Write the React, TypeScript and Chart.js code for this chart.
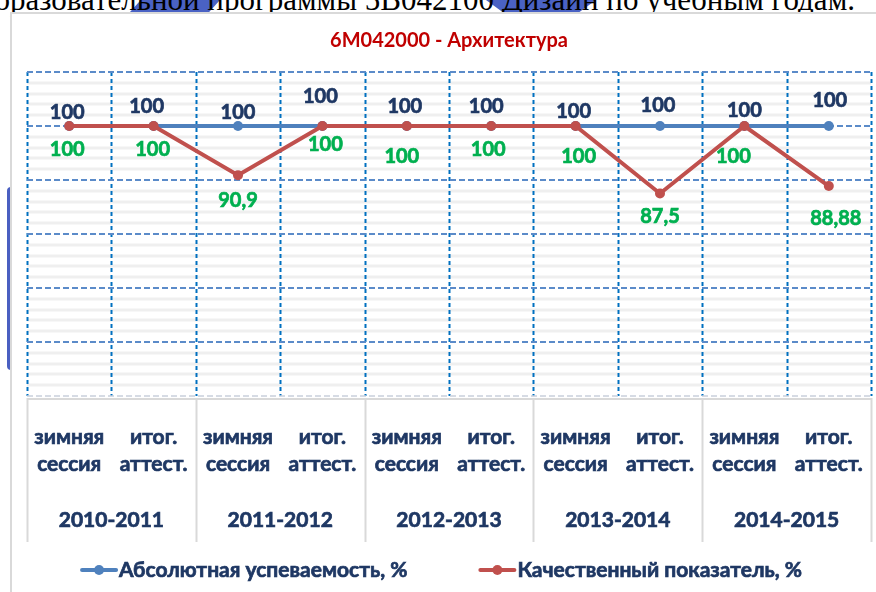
import React, { useEffect, useRef } from "react";
import { Chart, registerables } from "chart.js";

Chart.register(...registerables);

// ---- data ----
const titleText = "6M042000 - Архитектура";
const headingText = "образовательной программы 5В042100 Дизайн по учебным годам.";
const sessionLabels: string[][] = [
  ["зимняя", "сессия"], ["итог.", "аттест."],
  ["зимняя", "сессия"], ["итог.", "аттест."],
  ["зимняя", "сессия"], ["итог.", "аттест."],
  ["зимняя", "сессия"], ["итог.", "аттест."],
  ["зимняя", "сессия"], ["итог.", "аттест."],
];
const yearLabels = ["2010-2011", "2011-2012", "2012-2013", "2013-2014", "2014-2015"];
const absoluteName = "Абсолютная успеваемость, %";
const qualityName = "Качественный показатель, %";
const absoluteValues = [100, 100, 100, 100, 100, 100, 100, 100, 100, 100];
const qualityValues = [100, 100, 90.9, 100, 100, 100, 100, 87.5, 100, 88.88];
const yMin = 50;
const yMax = 110;
const majorStep = 10;
const minorStep = 2;

// ---- label placement (style, relative to each point) ----
const absLabelOffset: [number, number][] = [
  [-2, -13], [-7, -19], [0, -13], [-2, -29], [-2, -19],
  [-5, -19], [-2, -14], [-2, -20], [0, -15], [1, -25],
];
const qualLabelOffset: [number, number][] = [
  [-2, 24], [-1, 24], [0, 25], [3, 19], [-5, 31],
  [-3, 24], [3, 31], [0, 23], [-11, 31], [7, 32],
];

const FONT = "Lato, 'Open Sans', sans-serif";
const NAVY = "#1F3864";
const BLUE = "#4F81BD";
const RED = "#C0504D";
const GREEN = "#00B050";

const fmt = (v: number) => String(v).replace(".", ",");

// filled text with a hairline stroke to get a heavier weight
const boldText = (ctx: CanvasRenderingContext2D, t: string, px: number, py: number, color: string) => {
  ctx.fillStyle = color;
  ctx.strokeStyle = color;
  ctx.lineWidth = 0.7;
  ctx.setLineDash([]);
  ctx.fillText(t, px, py);
  ctx.strokeText(t, px, py);
};

const decorPlugin = {
  id: "decor",
  beforeDatasetsDraw(chart: any) {
    const { ctx, chartArea: a, scales } = chart;
    const x = scales.x;
    const y = scales.y;
    ctx.save();
    // minor grid
    ctx.setLineDash([]);
    ctx.strokeStyle = "#efefef";
    ctx.lineWidth = 3;
    for (let v = yMin + minorStep; v < yMax; v += minorStep) {
      if (Math.abs(v % majorStep) < 1e-6) continue;
      const py = Math.round(y.getPixelForValue(v));
      ctx.beginPath();
      ctx.moveTo(a.left, py);
      ctx.lineTo(a.right, py);
      ctx.stroke();
    }
    // category boundaries
    const n = sessionLabels.length;
    const bounds: number[] = [];
    for (let i = 0; i <= n; i++) {
      if (i === 0) bounds.push(a.left);
      else if (i === n) bounds.push(a.right);
      else bounds.push((x.getPixelForValue(i - 1) + x.getPixelForValue(i)) / 2);
    }
    // vertical dashed
    ctx.strokeStyle = "#0070C0";
    ctx.lineWidth = 2;
    ctx.setLineDash([4, 3]);
    for (const bx of bounds) {
      const px = Math.round(bx) + 0.5;
      ctx.beginPath();
      ctx.moveTo(px, a.top);
      ctx.lineTo(px, a.bottom);
      ctx.stroke();
    }
    // horizontal major dashed
    ctx.setLineDash([6, 3]);
    for (let v = yMin; v <= yMax; v += majorStep) {
      const py = Math.round(y.getPixelForValue(v));
      ctx.strokeStyle = v === yMin ? "#c9d0dc" : "#5B8BC9";
      ctx.lineWidth = v === yMin ? 1.5 : 2;
      ctx.beginPath();
      ctx.moveTo(a.left, py);
      ctx.lineTo(a.right, py);
      ctx.stroke();
    }
    // category axis box
    ctx.setLineDash([]);
    ctx.strokeStyle = "#d9d9d9";
    ctx.lineWidth = 2;
    ctx.beginPath();
    ctx.moveTo(a.left, a.bottom + 3);
    ctx.lineTo(a.right, a.bottom + 3);
    ctx.stroke();
    for (let i = 0; i <= n; i += 2) {
      const px = Math.round(bounds[i]) + 0.5;
      ctx.beginPath();
      ctx.moveTo(px, a.bottom + 2);
      ctx.lineTo(px, a.bottom + 146);
      ctx.stroke();
    }
    // category labels
    ctx.font = `bold 21px ${FONT}`;
    ctx.textAlign = "center";
    ctx.textBaseline = "middle";
    sessionLabels.forEach((lines, i) => {
      const px = x.getPixelForValue(i);
      lines.forEach((t, j) => boldText(ctx, t, px, a.bottom + 41 + j * 27, NAVY));
    });
    yearLabels.forEach((t, g) => {
      const px = (bounds[g * 2] + bounds[g * 2 + 2]) / 2;
      boldText(ctx, t, px, a.bottom + 124, NAVY);
    });
    ctx.restore();
  },
  afterDatasetsDraw(chart: any) {
    const { ctx } = chart;
    ctx.save();
    ctx.font = `bold 20px ${FONT}`;
    ctx.textAlign = "center";
    ctx.textBaseline = "middle";
    const m0 = chart.getDatasetMeta(0);
    const m1 = chart.getDatasetMeta(1);
    m0.data.forEach((pt: any, i: number) => {
      const [dx, dy] = absLabelOffset[i];
      boldText(ctx, fmt(absoluteValues[i]), pt.x + dx, pt.y + dy, NAVY);
    });
    m1.data.forEach((pt: any, i: number) => {
      const [dx, dy] = qualLabelOffset[i];
      boldText(ctx, fmt(qualityValues[i]), pt.x + dx, pt.y + dy, GREEN);
    });
    // legend
    ctx.font = `bold 21px ${FONT}`;
    const items = [
      { name: absoluteName, color: BLUE },
      { name: qualityName, color: RED },
    ];
    const lineLen = 34;
    const gapText = 3;
    const gapItems = 73;
    const widths = items.map((it) => lineLen + gapText + ctx.measureText(it.name).width);
    const total = widths[0] + widths[1] + gapItems;
    let sx = chart.width / 2 + 4 - total / 2;
    const ly = chart.chartArea.bottom + 174;
    items.forEach((it, k) => {
      ctx.strokeStyle = it.color;
      ctx.lineWidth = 4;
      ctx.lineCap = "round";
      ctx.beginPath();
      ctx.moveTo(sx, ly);
      ctx.lineTo(sx + lineLen, ly);
      ctx.stroke();
      ctx.fillStyle = it.color;
      ctx.beginPath();
      ctx.arc(sx + lineLen / 2, ly, 5, 0, Math.PI * 2);
      ctx.fill();
      ctx.textAlign = "left";
      boldText(ctx, it.name, sx + lineLen + gapText, ly, NAVY);
      sx += widths[k] + gapItems;
    });
    ctx.restore();
  },
};

export default function App() {
  const ref = useRef<HTMLCanvasElement | null>(null);
  useEffect(() => {
    document.body.style.margin = "0";
    let chart: Chart | null = null;
    let cancelled = false;
    const make = () => {
      if (cancelled || !ref.current) return;
      chart = new Chart(ref.current, {
        type: "line",
        data: {
          labels: sessionLabels.map((l) => l.join(" ")),
          datasets: [
            {
              label: absoluteName,
              data: absoluteValues,
              borderColor: BLUE,
              backgroundColor: BLUE,
              borderWidth: 4,
              pointRadius: 5,
              pointBorderWidth: 0,
              pointBackgroundColor: BLUE,
              tension: 0,
              order: 2,
            },
            {
              label: qualityName,
              data: qualityValues,
              borderColor: RED,
              backgroundColor: RED,
              borderWidth: 4,
              pointRadius: 5,
              pointBorderWidth: 0,
              pointBackgroundColor: RED,
              tension: 0,
              order: 1,
            },
          ],
        },
        options: {
          responsive: false,
          animation: false,
          devicePixelRatio: 1,
          layout: { padding: { left: 27, right: 5, top: 0, bottom: 196 } },
          plugins: {
            legend: { display: false },
            tooltip: { enabled: false },
            title: {
              display: true,
              text: titleText,
              color: "#C00000",
              font: { family: FONT, size: 20, weight: "bold" },
              padding: { top: 29, bottom: 19 },
            },
          },
          scales: {
            x: { type: "category", offset: true, display: false },
            y: { min: yMin, max: yMax, display: false },
          },
        },
        plugins: [decorPlugin],
      });
    };
    const fontsApi: any = (document as any).fonts;
    if (fontsApi && fontsApi.load) {
      Promise.all([fontsApi.load(`bold 20px Lato`)]).then(make, make);
    } else make();
    return () => {
      cancelled = true;
      if (chart) chart.destroy();
    };
  }, []);

  return (
    <div style={{ position: "fixed", left: 0, top: 0, width: 876, height: 592, background: "#fff", overflow: "hidden" }}>
      <div style={{ position: "absolute", left: 130, top: 0, width: 90, height: 12, background: "#4A62C4", clipPath: "polygon(12% 0, 100% 0, 88% 100%, 0 100%)" }} />
      <div style={{ position: "absolute", left: 486, top: 0, width: 110, height: 12, background: "#4A62C4", clipPath: "polygon(0 0, 100% 0, 85% 100%, 15% 100%)" }} />
      <div style={{ position: "absolute", right: 21, top: -16, fontFamily: "'Liberation Serif', 'DejaVu Serif', serif", fontSize: 31, lineHeight: "31px", whiteSpace: "nowrap", color: "#000" }}>
        {headingText}
      </div>
      <div style={{ position: "absolute", left: 7, top: 187, width: 5, height: 183, background: "#4A5FC1", borderRadius: "4px 0 0 4px" }} />
      <div style={{ position: "absolute", left: 10, top: 12, width: 900, height: 620, border: "2px solid #d9d9d9", background: "#fff", boxSizing: "border-box" }} />
      <canvas ref={ref} width={876} height={592} style={{ position: "absolute", left: 0, top: 0, width: 876, height: 592 }} />
    </div>
  );
}
